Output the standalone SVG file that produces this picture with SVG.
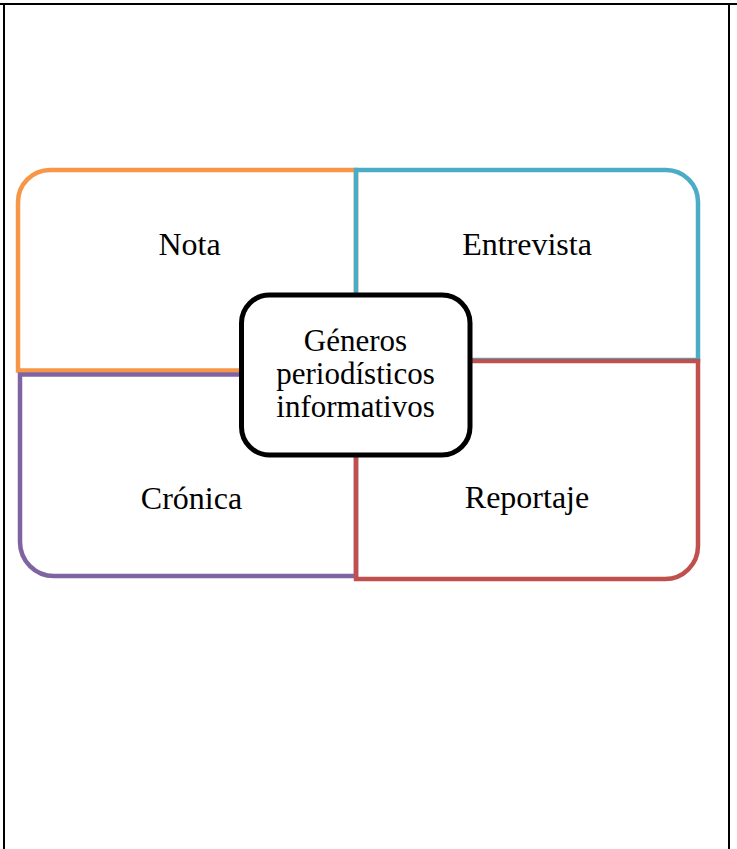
<svg xmlns="http://www.w3.org/2000/svg" width="737" height="849" viewBox="0 0 737 849">
<style>
.frame{stroke:#000;stroke-width:2;fill:none}
.q{fill:none;stroke-width:4.5;stroke-linejoin:miter}
.lbl{font-family:"Liberation Serif","Times New Roman",serif;font-size:32px;fill:#000;text-anchor:middle}
.ctr{font-family:"Liberation Serif","Times New Roman",serif;font-size:31px;fill:#000;text-anchor:middle}
</style>
<rect width="737" height="849" fill="#fff"/>
<g id="frame">
<line class="frame" x1="0" y1="4" x2="737" y2="4"/>
<line class="frame" x1="4" y1="4" x2="4" y2="849"/>
<line class="frame" x1="729" y1="4" x2="729" y2="849"/>
</g>
<g id="nota">
<path class="q" stroke="#F79646" d="M18,370.5 V202 A32,32 0 0 1 50,170 H356 V370.5 Z"/>
<text class="lbl" x="189.5" y="255">Nota</text>
</g>
<g id="cronica">
<path class="q" stroke="#8064A2" d="M20,374.5 H356 V576 H54 A34,34 0 0 1 20,542 Z"/>
<text class="lbl" x="191.5" y="509">Crónica</text>
</g>
<g id="entrevista">
<path class="q" stroke="#4BACC6" d="M356,360 V170 H666 A32,32 0 0 1 698,202 V360 Z"/>
<text class="lbl" x="527" y="255">Entrevista</text>
</g>
<g id="reportaje">
<path class="q" stroke="#C0504D" d="M356,361 H698 V546 A33,33 0 0 1 665,579 H356 Z"/>
<text class="lbl" x="527" y="508">Reportaje</text>
</g>
<g id="center">
<rect x="241.5" y="295" width="228.5" height="160" rx="28" fill="#fff" stroke="#000" stroke-width="5"/>
<text class="ctr" x="355.5" y="351">Géneros</text>
<text class="ctr" x="355.5" y="384">periodísticos</text>
<text class="ctr" x="355.5" y="417">informativos</text>
</g>
<g id="connectors"></g>
</svg>
